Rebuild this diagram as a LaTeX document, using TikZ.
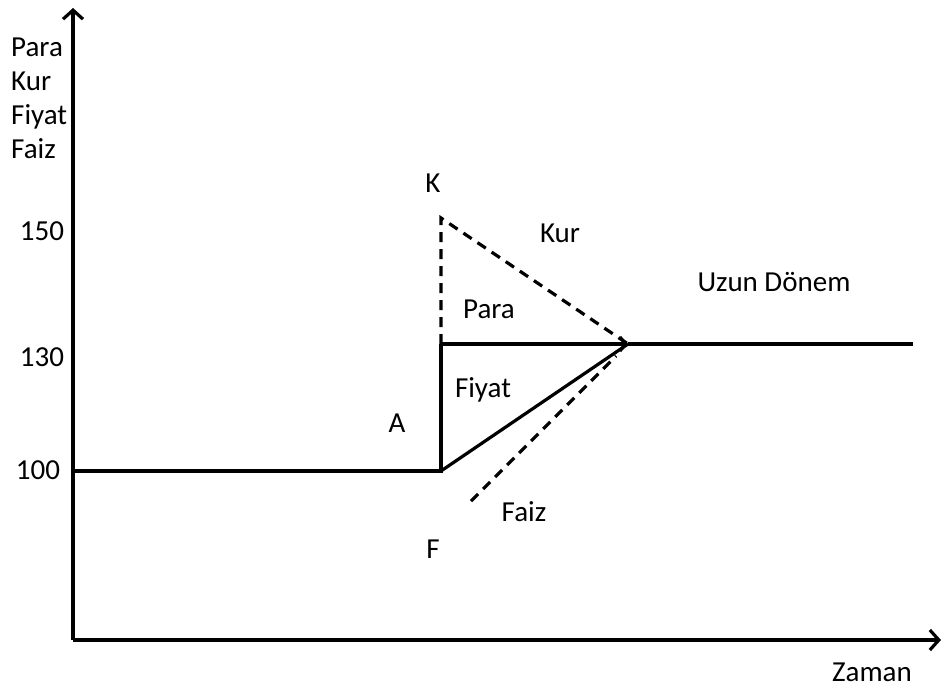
\documentclass[tikz,border=0pt]{standalone}
\usepackage{fontspec}
\setmainfont{Carlito}
\usepackage{tikz}
\usetikzlibrary{arrows.meta}

\begin{document}
\begin{tikzpicture}[
  x=1pt, y=-1pt,
  axis/.style={line width=3.2pt, -{Straight Barb[length=9pt, width=20pt, line width=3.2pt]}},
  path_line/.style={line width=3.2pt},
  shift_line/.style={line width=3.2pt, dash pattern=on 10pt off 7pt},
  lbl/.style={font=\fontsize{29}{34}\selectfont, inner sep=0pt}
]
  \useasboundingbox (0,0) rectangle (944,688);

  % Axis points
  \coordinate (orig) at (73,640);
  \coordinate (ytop) at (73,8);
  \coordinate (xend) at (941,640);

  % Adjustment path points
  \coordinate (start) at (73,471);
  \coordinate (shock) at (441,471);
  \coordinate (jump) at (441,344);
  \coordinate (kpeak) at (441,218);
  \coordinate (equil) at (628,344);
  \coordinate (longrun) at (913,344);
  \coordinate (fstart) at (471,501);
  \coordinate (fend) at (616,356);

  % Axes
  \draw[axis] (orig) -- (ytop);
  \draw[axis] (orig) -- (xend);

  % Solid paths
  \draw[path_line] (start) -- (shock) -- (jump);
  \draw[path_line] (shock) -- (equil);
  \draw[path_line, -{Straight Barb[length=6pt, width=14pt, line width=3.2pt]}] (jump) -- (equil);
  \draw[path_line] (equil) -- (longrun);

  % Dashed paths
  \draw[shift_line] (jump) -- (kpeak) -- (equil);
  \draw[shift_line] (fstart) -- (fend);

  % Axis labels
  \node[lbl, anchor=north west, align=left] (ylab) at (11,38) {Para\\Kur\\Fiyat\\Faiz};
  \node[lbl] (xlab) at (872,672) {Zaman};
  \node[lbl] (v150) at (42,231) {150};
  \node[lbl] (v130) at (42,357) {130};
  \node[lbl] (v100) at (38,470) {100};

  % Curve labels
  \node[lbl] (klab) at (433,183) {K};
  \node[lbl] (kur) at (560,233) {Kur};
  \node[lbl] (uzun) at (774,282) {Uzun Dönem};
  \node[lbl] (para) at (489,309) {Para};
  \node[lbl] (fiyat) at (483,390) {Fiyat};
  \node[lbl] (alab) at (397,423) {A};
  \node[lbl] (faiz) at (524,512) {Faiz};
  \node[lbl] (flab) at (433,549) {F};

\end{tikzpicture}
\end{document}
